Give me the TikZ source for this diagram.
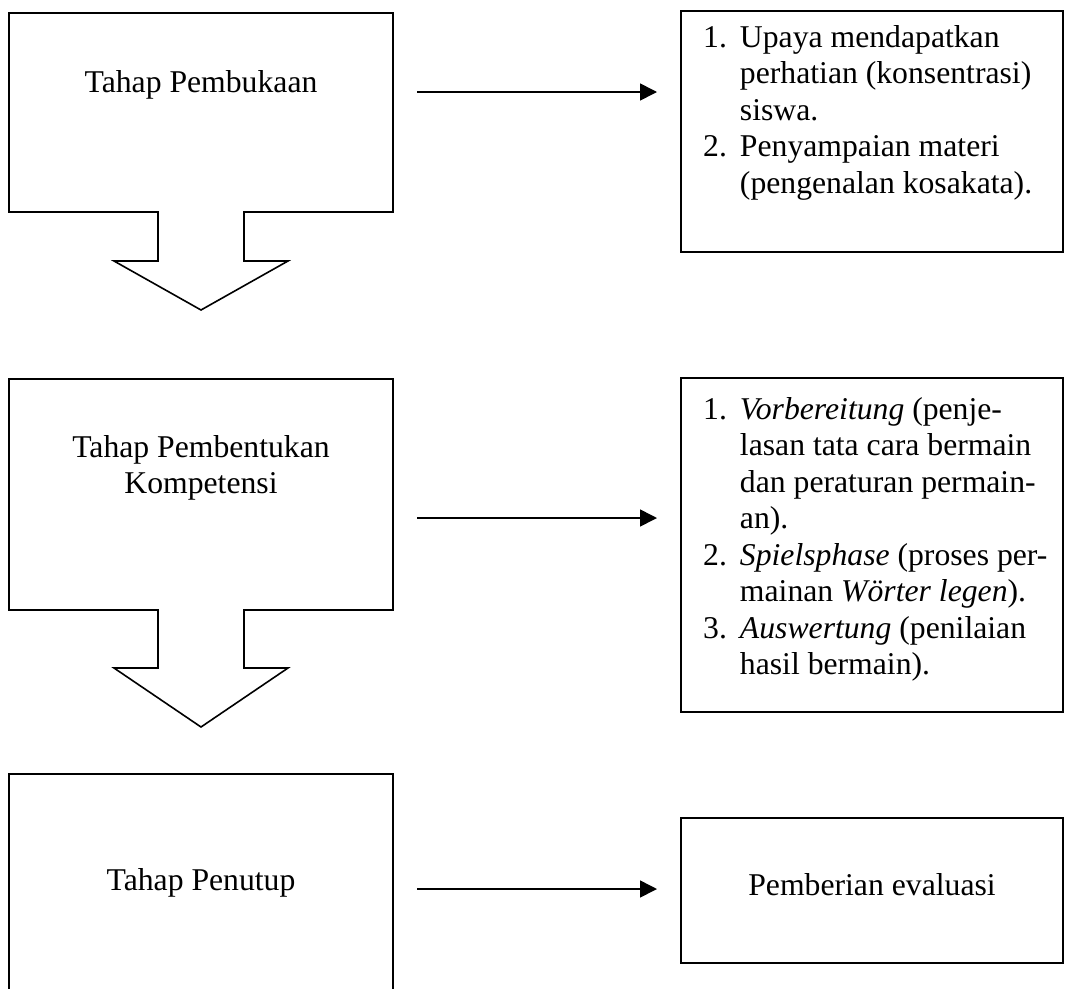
\documentclass[tikz,border=0pt]{standalone}
\usepackage{fontspec}
\setmainfont{Liberation Serif}
\usetikzlibrary{arrows.meta}
\begin{document}
\begin{tikzpicture}[x=1pt,y=-1pt,
  outline/.style={draw, line width=1.6pt, line join=miter},
  frame/.style={draw=none, inner sep=0pt, outer sep=0pt},
  rbox/.style={draw, line width=1.6pt, inner sep=0pt, outer sep=0pt},
  conn/.style={line width=1.6pt, -{Triangle[length=17pt,width=17pt]}, shorten <=24pt, shorten >=24pt},
  txt/.style={font=\fontsize{31.7}{36.5}\selectfont, inner sep=0pt, anchor=base}]
\useasboundingbox (0,0) rectangle (1065,988);
\clip (0,0) rectangle (1065,988);

% left stage frames (named), outlines drawn as one path each
\node[frame, minimum width=384pt, minimum height=199pt] (L1) at (201,112.5) {};
\node[frame, minimum width=384pt, minimum height=231pt] (L2) at (201,494.5) {};
\node[frame, minimum width=384pt, minimum height=230pt] (L3) at (201,889) {};

\draw[outline] (L1.north west) -- (L1.north east) -- (L1.south east) -- (244,212) -- (244,261) -- (288,261) -- (201,310) -- (114,261) -- (158,261) -- (158,212) -- (L1.south west) -- cycle;
\draw[outline] (L2.north west) -- (L2.north east) -- (L2.south east) -- (244,610) -- (244,668) -- (288,668) -- (201,727) -- (114,668) -- (158,668) -- (158,610) -- (L2.south west) -- cycle;
\draw[outline] (L3.north west) -- (L3.north east) -- (L3.south east) -- (L3.south west) -- cycle;

\node[txt] (t1) at (201,92) {Tahap Pembukaan};
\node[txt] (t2) at (201,457) {\begin{tabular}[t]{@{}c@{}}Tahap Pembentukan\\Kompetensi\end{tabular}};
\node[txt] (t3) at (201,890) {Tahap Penutup};

% right boxes
\node[rbox, minimum width=382pt, minimum height=241pt] (R1) at (872,131.5) {};
\node[rbox, minimum width=382pt, minimum height=334pt] (R2) at (872,545) {};
\node[rbox, minimum width=382pt, minimum height=145pt] (R3) at (872,890.5) {};

\node[txt, anchor=base west] (r1) at (703,47) {\begin{tabular}[t]{@{}l@{\hspace{13pt}}l@{}}
1. & Upaya mendapatkan\\
   & perhatian (konsentrasi)\\
   & siswa.\\
2. & Penyampaian materi\\
   & (pengenalan kosakata).
\end{tabular}};

\node[txt, anchor=base west] (r2) at (703,419) {\begin{tabular}[t]{@{}l@{\hspace{13pt}}l@{}}
1. & \textit{Vorbereitung} (penje-\\
   & lasan tata cara bermain\\
   & dan peraturan permain-\\
   & an).\\
2. & \textit{Spielsphase} (proses per-\\
   & mainan \textit{Wörter legen}).\\
3. & \textit{Auswertung} (penilaian\\
   & hasil bermain).
\end{tabular}};

\node[txt] (r3) at (872,895) {Pemberian evaluasi};

% connectors
\coordinate (a1) at (0,92);
\coordinate (a2) at (0,518);
\coordinate (a3) at (0,889);
\draw[conn] (L1.east |- a1) -- (R1.west |- a1);
\draw[conn] (L2.east |- a2) -- (R2.west |- a2);
\draw[conn] (L3.east |- a3) -- (R3.west |- a3);
\end{tikzpicture}
\end{document}
